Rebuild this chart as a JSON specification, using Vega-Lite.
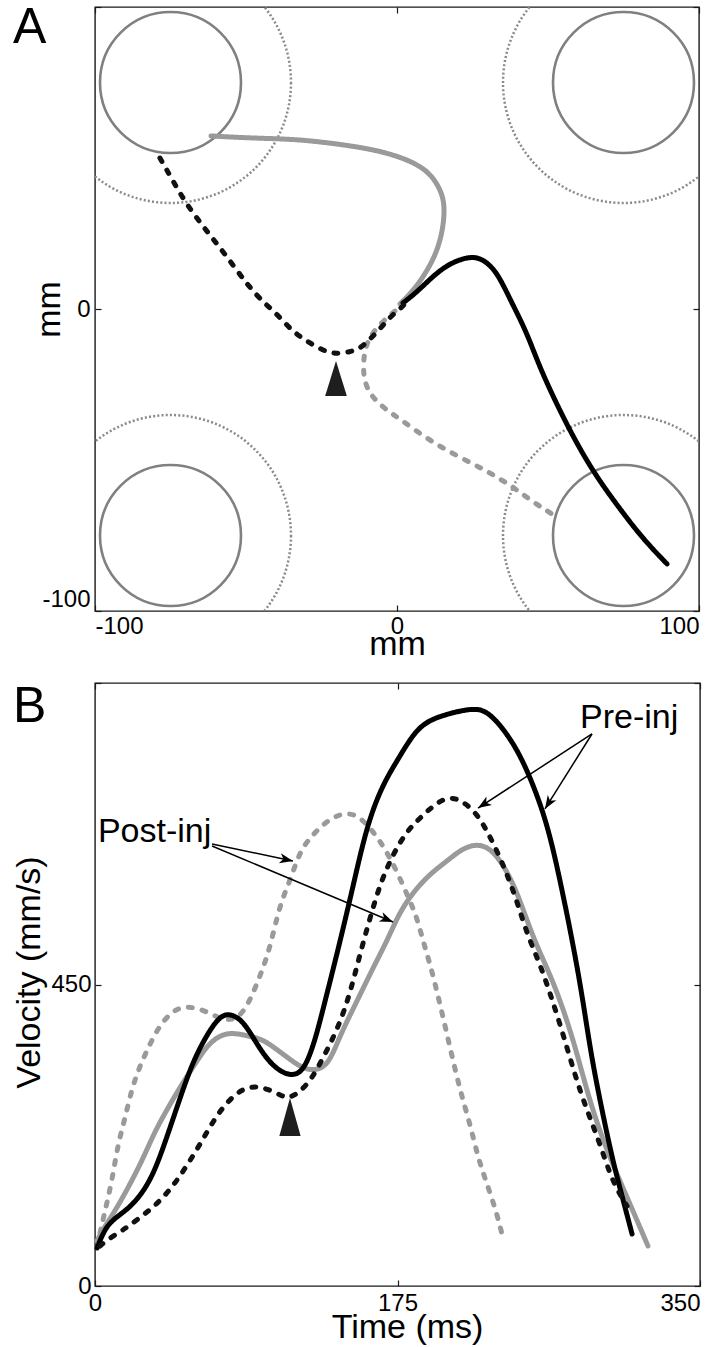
{
  "$schema": "https://vega.github.io/schema/vega-lite/v6.json",
  "background": "white",
  "padding": {"left": 12, "top": 2, "right": 0, "bottom": 0},
  "spacing": 19,
  "datasets": {
    "targets": [
      {"x": -75, "y": 75}, {"x": 75, "y": 75}, {"x": -75, "y": -75}, {"x": 75, "y": -75}
    ],
    "pathsA": [
      {"s": "post_solid", "i": 1, "x": 1.0, "y": 1.7},
      {"s": "post_solid", "i": 2, "x": 6.0, "y": 6.6},
      {"s": "post_solid", "i": 3, "x": 11.9, "y": 15.6},
      {"s": "post_solid", "i": 4, "x": 14.9, "y": 24.2},
      {"s": "post_solid", "i": 5, "x": 15.9, "y": 33.1},
      {"s": "post_solid", "i": 6, "x": 14.9, "y": 38.7},
      {"s": "post_solid", "i": 7, "x": 10.9, "y": 45.4},
      {"s": "post_solid", "i": 8, "x": 3.3, "y": 49.7},
      {"s": "post_solid", "i": 9, "x": -8.0, "y": 53.0},
      {"s": "post_solid", "i": 10, "x": -24.5, "y": 55.3},
      {"s": "post_solid", "i": 11, "x": -35.4, "y": 56.3},
      {"s": "post_solid", "i": 12, "x": -48.7, "y": 56.6},
      {"s": "post_solid", "i": 13, "x": -61.6, "y": 57.3},
      {"s": "post_dash", "i": 1, "x": -0.7, "y": -0.7},
      {"s": "post_dash", "i": 2, "x": -5.0, "y": -4.3},
      {"s": "post_dash", "i": 3, "x": -8.9, "y": -8.9},
      {"s": "post_dash", "i": 4, "x": -10.6, "y": -13.2},
      {"s": "post_dash", "i": 5, "x": -11.3, "y": -19.2},
      {"s": "post_dash", "i": 6, "x": -10.6, "y": -24.8},
      {"s": "post_dash", "i": 7, "x": -8.3, "y": -29.1},
      {"s": "post_dash", "i": 8, "x": -4.0, "y": -33.1},
      {"s": "post_dash", "i": 9, "x": 1.0, "y": -36.4},
      {"s": "post_dash", "i": 10, "x": 9.9, "y": -43.0},
      {"s": "post_dash", "i": 11, "x": 19.9, "y": -48.7},
      {"s": "post_dash", "i": 12, "x": 29.8, "y": -53.6},
      {"s": "post_dash", "i": 13, "x": 38.4, "y": -58.9},
      {"s": "post_dash", "i": 14, "x": 45.0, "y": -63.9},
      {"s": "post_dash", "i": 15, "x": 52.3, "y": -68.5},
      {"s": "pre_solid", "i": 1, "x": 2.0, "y": 2.0},
      {"s": "pre_solid", "i": 2, "x": 6.6, "y": 5.6},
      {"s": "pre_solid", "i": 3, "x": 11.9, "y": 10.9},
      {"s": "pre_solid", "i": 4, "x": 17.5, "y": 15.2},
      {"s": "pre_solid", "i": 5, "x": 24.2, "y": 17.5},
      {"s": "pre_solid", "i": 6, "x": 28.5, "y": 16.6},
      {"s": "pre_solid", "i": 7, "x": 33.1, "y": 12.3},
      {"s": "pre_solid", "i": 8, "x": 37.4, "y": 3.3},
      {"s": "pre_solid", "i": 9, "x": 41.4, "y": -4.6},
      {"s": "pre_solid", "i": 10, "x": 44.4, "y": -11.6},
      {"s": "pre_solid", "i": 11, "x": 47.9, "y": -20.9},
      {"s": "pre_solid", "i": 12, "x": 56.3, "y": -38.7},
      {"s": "pre_solid", "i": 13, "x": 64.9, "y": -54.0},
      {"s": "pre_solid", "i": 14, "x": 73.8, "y": -66.2},
      {"s": "pre_solid", "i": 15, "x": 81.5, "y": -76.2},
      {"s": "pre_solid", "i": 16, "x": 89.4, "y": -84.4},
      {"s": "pre_dash", "i": 1, "x": -78.5, "y": 50.0},
      {"s": "pre_dash", "i": 2, "x": -74.5, "y": 43.0},
      {"s": "pre_dash", "i": 3, "x": -70.2, "y": 35.4},
      {"s": "pre_dash", "i": 4, "x": -63.6, "y": 26.5},
      {"s": "pre_dash", "i": 5, "x": -56.9, "y": 18.2},
      {"s": "pre_dash", "i": 6, "x": -49.3, "y": 7.6},
      {"s": "pre_dash", "i": 7, "x": -43.7, "y": 1.7},
      {"s": "pre_dash", "i": 8, "x": -39.7, "y": -1.7},
      {"s": "pre_dash", "i": 9, "x": -35.4, "y": -6.6},
      {"s": "pre_dash", "i": 10, "x": -31.1, "y": -9.9},
      {"s": "pre_dash", "i": 11, "x": -24.5, "y": -13.9},
      {"s": "pre_dash", "i": 12, "x": -19.9, "y": -14.9},
      {"s": "pre_dash", "i": 13, "x": -15.6, "y": -14.2},
      {"s": "pre_dash", "i": 14, "x": -12.3, "y": -13.2},
      {"s": "pre_dash", "i": 15, "x": -8.9, "y": -9.9},
      {"s": "pre_dash", "i": 16, "x": -5.6, "y": -6.6},
      {"s": "pre_dash", "i": 17, "x": -2.3, "y": -2.6},
      {"s": "pre_dash", "i": 18, "x": 1.0, "y": 0.0},
      {"s": "pre_dash", "i": 19, "x": 2.6, "y": 1.7}
    ],
    "markA": [{"x": -20.2, "y": -23.0}],
    "curvesB": [
      {"s": "post_solid", "i": 1, "t": 1.2, "v": 67.2},
      {"s": "post_solid", "i": 2, "t": 4.0, "v": 82.1},
      {"s": "post_solid", "i": 3, "t": 11.6, "v": 111.9},
      {"s": "post_solid", "i": 4, "t": 19.1, "v": 146.3},
      {"s": "post_solid", "i": 5, "t": 27.2, "v": 186.6},
      {"s": "post_solid", "i": 6, "t": 34.7, "v": 231.3},
      {"s": "post_solid", "i": 7, "t": 42.2, "v": 265.7},
      {"s": "post_solid", "i": 8, "t": 50.3, "v": 301.5},
      {"s": "post_solid", "i": 9, "t": 57.9, "v": 331.3},
      {"s": "post_solid", "i": 10, "t": 65.4, "v": 361.2},
      {"s": "post_solid", "i": 11, "t": 73.5, "v": 376.1},
      {"s": "post_solid", "i": 12, "t": 81.0, "v": 377.6},
      {"s": "post_solid", "i": 13, "t": 88.5, "v": 373.1},
      {"s": "post_solid", "i": 14, "t": 96.6, "v": 368.6},
      {"s": "post_solid", "i": 15, "t": 104.1, "v": 355.2},
      {"s": "post_solid", "i": 16, "t": 111.7, "v": 340.3},
      {"s": "post_solid", "i": 17, "t": 119.7, "v": 325.4},
      {"s": "post_solid", "i": 18, "t": 127.3, "v": 320.9},
      {"s": "post_solid", "i": 19, "t": 134.8, "v": 329.9},
      {"s": "post_solid", "i": 20, "t": 140.6, "v": 365.7},
      {"s": "post_solid", "i": 21, "t": 145.8, "v": 395.5},
      {"s": "post_solid", "i": 22, "t": 151.6, "v": 425.4},
      {"s": "post_solid", "i": 23, "t": 160.8, "v": 474.6},
      {"s": "post_solid", "i": 24, "t": 168.9, "v": 514.9},
      {"s": "post_solid", "i": 25, "t": 174.7, "v": 549.2},
      {"s": "post_solid", "i": 26, "t": 180.5, "v": 574.6},
      {"s": "post_solid", "i": 27, "t": 186.3, "v": 594.0},
      {"s": "post_solid", "i": 28, "t": 193.8, "v": 614.9},
      {"s": "post_solid", "i": 29, "t": 203.6, "v": 634.3},
      {"s": "post_solid", "i": 30, "t": 212.9, "v": 653.7},
      {"s": "post_solid", "i": 31, "t": 221.0, "v": 659.7},
      {"s": "post_solid", "i": 32, "t": 228.5, "v": 653.7},
      {"s": "post_solid", "i": 33, "t": 236.0, "v": 629.9},
      {"s": "post_solid", "i": 34, "t": 244.1, "v": 589.5},
      {"s": "post_solid", "i": 35, "t": 253.4, "v": 519.4},
      {"s": "post_solid", "i": 36, "t": 263.2, "v": 465.7},
      {"s": "post_solid", "i": 37, "t": 270.7, "v": 414.9},
      {"s": "post_solid", "i": 38, "t": 277.7, "v": 358.2},
      {"s": "post_solid", "i": 39, "t": 284.6, "v": 291.0},
      {"s": "post_solid", "i": 40, "t": 291.0, "v": 238.8},
      {"s": "post_solid", "i": 41, "t": 297.9, "v": 191.0},
      {"s": "post_solid", "i": 42, "t": 309.5, "v": 122.4},
      {"s": "post_solid", "i": 43, "t": 319.9, "v": 59.7},
      {"s": "post_dash", "i": 1, "t": 2.9, "v": 79.1},
      {"s": "post_dash", "i": 2, "t": 5.8, "v": 111.9},
      {"s": "post_dash", "i": 3, "t": 9.8, "v": 156.7},
      {"s": "post_dash", "i": 4, "t": 13.3, "v": 211.9},
      {"s": "post_dash", "i": 5, "t": 17.4, "v": 250.7},
      {"s": "post_dash", "i": 6, "t": 21.4, "v": 295.5},
      {"s": "post_dash", "i": 7, "t": 26.0, "v": 328.4},
      {"s": "post_dash", "i": 8, "t": 30.7, "v": 355.2},
      {"s": "post_dash", "i": 9, "t": 36.4, "v": 385.1},
      {"s": "post_dash", "i": 10, "t": 44.5, "v": 410.4},
      {"s": "post_dash", "i": 11, "t": 52.1, "v": 417.9},
      {"s": "post_dash", "i": 12, "t": 61.9, "v": 413.4},
      {"s": "post_dash", "i": 13, "t": 71.2, "v": 400.0},
      {"s": "post_dash", "i": 14, "t": 79.3, "v": 395.5},
      {"s": "post_dash", "i": 15, "t": 85.6, "v": 407.5},
      {"s": "post_dash", "i": 16, "t": 90.8, "v": 432.8},
      {"s": "post_dash", "i": 17, "t": 96.6, "v": 470.1},
      {"s": "post_dash", "i": 18, "t": 101.2, "v": 504.5},
      {"s": "post_dash", "i": 19, "t": 107.0, "v": 570.1},
      {"s": "post_dash", "i": 20, "t": 112.8, "v": 604.5},
      {"s": "post_dash", "i": 21, "t": 118.6, "v": 649.2},
      {"s": "post_dash", "i": 22, "t": 124.4, "v": 668.6},
      {"s": "post_dash", "i": 23, "t": 131.9, "v": 689.5},
      {"s": "post_dash", "i": 24, "t": 141.7, "v": 706.0},
      {"s": "post_dash", "i": 25, "t": 151.6, "v": 704.5},
      {"s": "post_dash", "i": 26, "t": 159.1, "v": 683.6},
      {"s": "post_dash", "i": 27, "t": 164.9, "v": 664.2},
      {"s": "post_dash", "i": 28, "t": 170.7, "v": 638.8},
      {"s": "post_dash", "i": 29, "t": 176.4, "v": 608.9},
      {"s": "post_dash", "i": 30, "t": 182.2, "v": 574.6},
      {"s": "post_dash", "i": 31, "t": 186.3, "v": 549.2},
      {"s": "post_dash", "i": 32, "t": 189.8, "v": 514.9},
      {"s": "post_dash", "i": 33, "t": 193.8, "v": 480.6},
      {"s": "post_dash", "i": 34, "t": 197.8, "v": 440.3},
      {"s": "post_dash", "i": 35, "t": 203.6, "v": 376.1},
      {"s": "post_dash", "i": 36, "t": 211.2, "v": 291.0},
      {"s": "post_dash", "i": 37, "t": 217.0, "v": 241.8},
      {"s": "post_dash", "i": 38, "t": 221.6, "v": 191.0},
      {"s": "post_dash", "i": 39, "t": 226.8, "v": 152.2},
      {"s": "post_dash", "i": 40, "t": 232.6, "v": 107.5},
      {"s": "post_dash", "i": 41, "t": 236.0, "v": 71.6},
      {"s": "pre_solid", "i": 1, "t": 1.2, "v": 56.7},
      {"s": "pre_solid", "i": 2, "t": 5.8, "v": 86.6},
      {"s": "pre_solid", "i": 3, "t": 11.6, "v": 101.5},
      {"s": "pre_solid", "i": 4, "t": 19.1, "v": 114.9},
      {"s": "pre_solid", "i": 5, "t": 27.2, "v": 137.3},
      {"s": "pre_solid", "i": 6, "t": 34.7, "v": 171.6},
      {"s": "pre_solid", "i": 7, "t": 42.2, "v": 226.9},
      {"s": "pre_solid", "i": 8, "t": 49.2, "v": 280.6},
      {"s": "pre_solid", "i": 9, "t": 56.1, "v": 331.3},
      {"s": "pre_solid", "i": 10, "t": 63.6, "v": 370.1},
      {"s": "pre_solid", "i": 11, "t": 71.2, "v": 400.0},
      {"s": "pre_solid", "i": 12, "t": 76.9, "v": 407.5},
      {"s": "pre_solid", "i": 13, "t": 85.0, "v": 398.5},
      {"s": "pre_solid", "i": 14, "t": 92.6, "v": 365.7},
      {"s": "pre_solid", "i": 15, "t": 100.1, "v": 335.8},
      {"s": "pre_solid", "i": 16, "t": 108.2, "v": 317.9},
      {"s": "pre_solid", "i": 17, "t": 115.7, "v": 313.4},
      {"s": "pre_solid", "i": 18, "t": 121.5, "v": 325.4},
      {"s": "pre_solid", "i": 19, "t": 127.3, "v": 365.7},
      {"s": "pre_solid", "i": 20, "t": 133.1, "v": 425.4},
      {"s": "pre_solid", "i": 21, "t": 140.0, "v": 495.5},
      {"s": "pre_solid", "i": 22, "t": 148.7, "v": 589.5},
      {"s": "pre_solid", "i": 23, "t": 157.4, "v": 689.5},
      {"s": "pre_solid", "i": 24, "t": 166.6, "v": 749.2},
      {"s": "pre_solid", "i": 25, "t": 174.7, "v": 783.6},
      {"s": "pre_solid", "i": 26, "t": 184.0, "v": 823.9},
      {"s": "pre_solid", "i": 27, "t": 192.1, "v": 843.3},
      {"s": "pre_solid", "i": 28, "t": 203.6, "v": 853.7},
      {"s": "pre_solid", "i": 29, "t": 218.7, "v": 862.7},
      {"s": "pre_solid", "i": 30, "t": 226.8, "v": 858.2},
      {"s": "pre_solid", "i": 31, "t": 236.0, "v": 832.8},
      {"s": "pre_solid", "i": 32, "t": 245.9, "v": 794.0},
      {"s": "pre_solid", "i": 33, "t": 255.7, "v": 734.3},
      {"s": "pre_solid", "i": 34, "t": 263.2, "v": 674.6},
      {"s": "pre_solid", "i": 35, "t": 270.7, "v": 585.1},
      {"s": "pre_solid", "i": 36, "t": 276.5, "v": 510.4},
      {"s": "pre_solid", "i": 37, "t": 281.7, "v": 435.8},
      {"s": "pre_solid", "i": 38, "t": 286.4, "v": 355.3},
      {"s": "pre_solid", "i": 39, "t": 291.0, "v": 291.0},
      {"s": "pre_solid", "i": 40, "t": 299.1, "v": 191.0},
      {"s": "pre_solid", "i": 41, "t": 304.9, "v": 134.3},
      {"s": "pre_solid", "i": 42, "t": 310.7, "v": 77.6},
      {"s": "pre_dash", "i": 1, "t": 2.9, "v": 59.7},
      {"s": "pre_dash", "i": 2, "t": 7.5, "v": 70.1},
      {"s": "pre_dash", "i": 3, "t": 15.6, "v": 82.1},
      {"s": "pre_dash", "i": 4, "t": 24.9, "v": 100.0},
      {"s": "pre_dash", "i": 5, "t": 34.7, "v": 119.4},
      {"s": "pre_dash", "i": 6, "t": 44.5, "v": 146.3},
      {"s": "pre_dash", "i": 7, "t": 53.8, "v": 182.1},
      {"s": "pre_dash", "i": 8, "t": 61.9, "v": 216.4},
      {"s": "pre_dash", "i": 9, "t": 69.4, "v": 250.7},
      {"s": "pre_dash", "i": 10, "t": 76.9, "v": 276.1},
      {"s": "pre_dash", "i": 11, "t": 85.0, "v": 294.0},
      {"s": "pre_dash", "i": 12, "t": 92.6, "v": 298.5},
      {"s": "pre_dash", "i": 13, "t": 100.1, "v": 294.0},
      {"s": "pre_dash", "i": 14, "t": 108.2, "v": 283.6},
      {"s": "pre_dash", "i": 15, "t": 111.7, "v": 280.6},
      {"s": "pre_dash", "i": 16, "t": 117.4, "v": 286.6},
      {"s": "pre_dash", "i": 17, "t": 125.5, "v": 309.0},
      {"s": "pre_dash", "i": 18, "t": 133.1, "v": 346.3},
      {"s": "pre_dash", "i": 19, "t": 140.6, "v": 385.1},
      {"s": "pre_dash", "i": 20, "t": 147.5, "v": 435.8},
      {"s": "pre_dash", "i": 21, "t": 153.3, "v": 495.5},
      {"s": "pre_dash", "i": 22, "t": 159.1, "v": 549.2},
      {"s": "pre_dash", "i": 23, "t": 164.9, "v": 600.0},
      {"s": "pre_dash", "i": 24, "t": 172.4, "v": 644.8},
      {"s": "pre_dash", "i": 25, "t": 180.5, "v": 679.1},
      {"s": "pre_dash", "i": 26, "t": 188.0, "v": 698.5},
      {"s": "pre_dash", "i": 27, "t": 195.5, "v": 716.4},
      {"s": "pre_dash", "i": 28, "t": 204.2, "v": 731.3},
      {"s": "pre_dash", "i": 29, "t": 212.9, "v": 723.9},
      {"s": "pre_dash", "i": 30, "t": 221.0, "v": 704.5},
      {"s": "pre_dash", "i": 31, "t": 226.8, "v": 679.1},
      {"s": "pre_dash", "i": 32, "t": 232.6, "v": 649.2},
      {"s": "pre_dash", "i": 33, "t": 238.3, "v": 614.9},
      {"s": "pre_dash", "i": 34, "t": 244.1, "v": 574.6},
      {"s": "pre_dash", "i": 35, "t": 249.9, "v": 525.4},
      {"s": "pre_dash", "i": 36, "t": 257.4, "v": 480.6},
      {"s": "pre_dash", "i": 37, "t": 263.2, "v": 437.3},
      {"s": "pre_dash", "i": 38, "t": 269.0, "v": 391.0},
      {"s": "pre_dash", "i": 39, "t": 274.8, "v": 340.3},
      {"s": "pre_dash", "i": 40, "t": 280.6, "v": 291.0},
      {"s": "pre_dash", "i": 41, "t": 286.4, "v": 250.7},
      {"s": "pre_dash", "i": 42, "t": 292.1, "v": 211.9},
      {"s": "pre_dash", "i": 43, "t": 297.9, "v": 167.2},
      {"s": "pre_dash", "i": 44, "t": 302.5, "v": 141.8},
      {"s": "pre_dash", "i": 45, "t": 307.8, "v": 119.4}
    ],
    "markB": [{"t": 112.8, "v": 252.2}],
    "arrowsB": [
      {"group": "Post-inj", "t0": 67.7, "v0": 659.7, "t1": 114.5, "v1": 634.3, "heading": 101.9},
      {"group": "Post-inj", "t0": 67.7, "v0": 656.7, "t1": 172.4, "v1": 543.3, "heading": 112.8},
      {"group": "Pre-inj", "t0": 287.5, "v0": 823.9, "t1": 221.6, "v1": 713.4, "heading": 237.0},
      {"group": "Pre-inj", "t0": 287.5, "v0": 823.9, "t1": 260.3, "v1": 712.0, "heading": 212.1}
    ],
    "labelsB": [
      {"label": "Post-inj", "t": 1.7, "v": 662.7},
      {"label": "Pre-inj", "t": 280.6, "v": 832.8}
    ]
  },
  "vconcat": [
    {
      "width": 604,
      "height": 604,
      "title": {"text": "A", "anchor": "start", "frame": "group", "orient": "top", "fontSize": 50, "fontWeight": "normal", "font": "Liberation Sans", "color": "#000", "dx": -82, "dy": 0, "offset": -47, "baseline": "top"},
      "layer": [
        {
          "data": {"name": "targets"},
          "mark": {"type": "point", "shape": "circle", "filled": false, "size": 58081, "stroke": "#8a8a8a", "strokeWidth": 2.5, "strokeDash": [2, 2.2], "opacity": 1, "clip": true},
          "encoding": {
            "x": {"field": "x", "type": "quantitative", "scale": {"domain": [-100, 100], "nice": false, "zero": false},
                  "axis": {"orient": "bottom", "values": [-100, 0, 100], "labelExpr": "'' + datum.value", "labelPadding": 9, "title": "mm", "titlePadding": -11}},
            "y": {"field": "y", "type": "quantitative", "scale": {"domain": [-100, 100], "nice": false, "zero": false},
                  "axis": {"orient": "left", "values": [-100, 0, 100], "labelExpr": "datum.value == 100 ? '' : '' + datum.value", "labelFlush": true, "labelPadding": 11, "title": "mm", "titlePadding": -25}}
          }
        },
        {
          "data": {"name": "targets"},
          "mark": {"type": "point", "shape": "circle", "filled": false, "size": 19881, "stroke": "#808080", "strokeWidth": 2.6, "opacity": 1},
          "encoding": {
            "x": {"field": "x", "type": "quantitative", "axis": null},
            "y": {"field": "y", "type": "quantitative", "axis": null}
          }
        },
        {
          "data": {"name": "pathsA"},
          "mark": {"type": "line", "interpolate": "basis", "strokeWidth": 5, "strokeCap": "round", "strokeJoin": "round"},
          "encoding": {
            "x": {"field": "x", "type": "quantitative", "axis": null},
            "y": {"field": "y", "type": "quantitative", "axis": null},
            "order": {"field": "i", "type": "quantitative"},
            "color": {"field": "s", "type": "nominal", "legend": null,
                      "scale": {"domain": ["post_solid", "post_dash", "pre_solid", "pre_dash"], "range": ["#9a9a9a", "#9a9a9a", "#000000", "#111111"]}},
            "strokeDash": {"field": "s", "type": "nominal", "legend": null,
                      "scale": {"domain": ["post_solid", "post_dash", "pre_solid", "pre_dash"], "range": [[1, 0], [4, 10], [1, 0], [4, 10]]}}
          }
        },
        {
          "data": {"name": "markA"},
          "mark": {"type": "point", "shape": "M0,-1L0.62,1L-0.62,1Z", "size": 1225, "filled": true, "fill": "#1e1e1e", "strokeWidth": 0, "opacity": 1},
          "encoding": {
            "x": {"field": "x", "type": "quantitative", "axis": {"orient": "top", "values": [-100, 0, 100], "labels": false, "title": null}},
            "y": {"field": "y", "type": "quantitative", "axis": {"orient": "right", "values": [-100, 0, 100], "labels": false, "title": null}}
          }
        }
      ],
      "resolve": {"axis": {"x": "independent", "y": "independent"}}
    },
    {
      "width": 605,
      "height": 603,
      "title": {"text": "B", "anchor": "start", "frame": "group", "orient": "top", "fontSize": 50, "fontWeight": "normal", "font": "Liberation Sans", "color": "#000", "dx": -82, "dy": 0, "offset": -50, "baseline": "top"},
      "layer": [
        {
          "data": {"name": "curvesB"},
          "mark": {"type": "line", "interpolate": "basis", "strokeWidth": 5, "strokeCap": "round", "strokeJoin": "round"},
          "encoding": {
            "x": {"field": "t", "type": "quantitative", "scale": {"domain": [0, 350], "nice": false, "zero": false},
                  "axis": {"orient": "bottom", "values": [0, 175, 350], "labelPadding": 11, "title": "Time (ms)", "titlePadding": -5, "titleX": 312,
                           "labelAlign": {"condition": {"test": "datum.value == 350", "value": "right"}, "value": "center"}}},
            "y": {"field": "v", "type": "quantitative", "scale": {"domain": [0, 900], "nice": false, "zero": false},
                  "axis": {"orient": "left", "values": [0, 450, 900], "labelExpr": "datum.value == 900 ? '' : datum.label", "labelPadding": 10, "title": "Velocity (mm/s)", "titlePadding": 4, "titleY": 289}},
            "order": {"field": "i", "type": "quantitative"},
            "color": {"field": "s", "type": "nominal", "legend": null,
                      "scale": {"domain": ["post_solid", "post_dash", "pre_solid", "pre_dash"], "range": ["#9a9a9a", "#9a9a9a", "#000000", "#1a1a1a"]}},
            "strokeDash": {"field": "s", "type": "nominal", "legend": null,
                      "scale": {"domain": ["post_solid", "post_dash", "pre_solid", "pre_dash"], "range": [[1, 0], [5, 10], [1, 0], [5, 10]]}}
          }
        },
        {
          "data": {"name": "markB"},
          "mark": {"type": "point", "shape": "M0,-1L0.56,1L-0.56,1Z", "size": 1444, "filled": true, "fill": "#1e1e1e", "strokeWidth": 0, "opacity": 1},
          "encoding": {
            "x": {"field": "t", "type": "quantitative", "axis": null},
            "y": {"field": "v", "type": "quantitative", "axis": null}
          }
        },
        {
          "data": {"name": "arrowsB"},
          "mark": {"type": "rule", "stroke": "#000", "strokeWidth": 1.5},
          "encoding": {
            "x": {"field": "t0", "type": "quantitative", "axis": null},
            "y": {"field": "v0", "type": "quantitative", "axis": null},
            "x2": {"field": "t1"},
            "y2": {"field": "v1"}
          }
        },
        {
          "data": {"name": "arrowsB"},
          "mark": {"type": "point", "shape": "M0,0L0.55,1.45L0,1.05L-0.55,1.45Z", "size": 340, "filled": true, "fill": "#000", "strokeWidth": 0, "opacity": 1},
          "encoding": {
            "x": {"field": "t1", "type": "quantitative", "axis": null},
            "y": {"field": "v1", "type": "quantitative", "axis": null},
            "angle": {"field": "heading", "type": "quantitative", "scale": null}
          }
        },
        {
          "data": {"name": "labelsB"},
          "mark": {"type": "text", "align": "left", "baseline": "alphabetic", "fontSize": 34, "font": "Liberation Sans", "color": "#000"},
          "encoding": {
            "x": {"field": "t", "type": "quantitative", "axis": {"orient": "top", "values": [0, 175, 350], "labels": false, "title": null}},
            "y": {"field": "v", "type": "quantitative", "axis": {"orient": "right", "values": [0, 450, 900], "labels": false, "title": null}},
            "text": {"field": "label"}
          }
        }
      ],
      "resolve": {"axis": {"x": "independent", "y": "independent"}}
    }
  ],
  "config": {
    "font": "Liberation Sans",
    "view": {"stroke": "#1a1a1a", "strokeWidth": 1.4},
    "axis": {
      "grid": false,
      "domain": false,
      "ticks": true,
      "tickSize": -6,
      "tickColor": "#1a1a1a",
      "tickWidth": 1.2,
      "labelFont": "Liberation Sans",
      "labelFontSize": 24,
      "labelColor": "#000",
      "titleFont": "Liberation Sans",
      "titleFontSize": 34,
      "titleFontWeight": "normal",
      "titleColor": "#000"
    }
  }
}
